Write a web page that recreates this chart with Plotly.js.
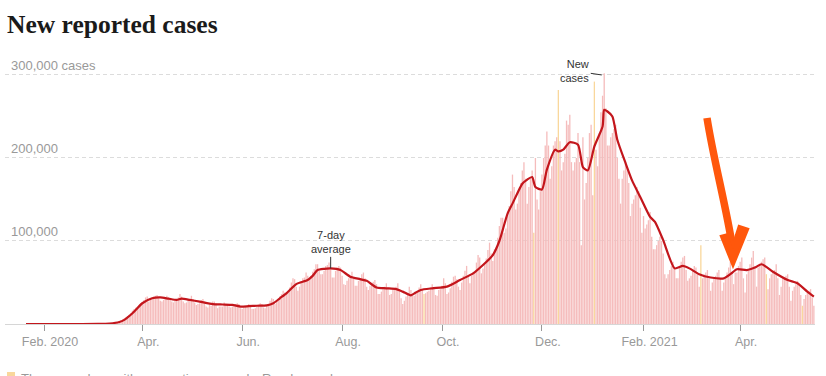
<!DOCTYPE html>
<html>
<head>
<meta charset="utf-8">
<script src="https://cdn.plot.ly/plotly-3.0.1.min.js"></script>
<style>
  html, body { margin: 0; padding: 0; background: #fff; }
  #chart { width: 826px; height: 376px; }
</style>
</head>
<body>
<div id="chart"></div>
<script>
// ---- Data (daily new cases, in thousands) ----
const startDate = '2020-01-21';
const jan2020 = [0,0,0,0,0,0,0,0,0,0,0];
const feb2020 = [0,0,0,0,0,0,0,0,0,0,0,0,0,0,0,0,0,0,0,0,0,0,0,0,0,0,0,0,0];
const mar2020 = [0.01,0.02,0.03,0.06,0.07,0.1,0.12, 0.15,0.2,0.3,0.4,0.5,0.7,0.8, 1.0,1.5,2.2,3.0,4.5,5.5,6.5, 8,9.5,11,13,16,18,19.5, 20,22,25];
const apr2020 = [26,29,32,33, 27,29,31,33,34,35,31, 28,27,29,30,34,32,30, 27,26,28,29,32,36,33, 27,25,26,29,30];
const may2020 = [34,30, 26,23,24,25,29,30,27, 21,20,23,22,27,27,25, 19,21,21,21,26,24,23, 21,20,21,22,24,25,24, 19];
const jun2020 = [18,20,21,22,24,23, 18,18,19,21,23,25,24, 20,19,22,24,28,31,30, 24,27,30,33,36,40,38, 36,38,44];
const jul2020 = [50,55,54,45, 40,45,50,55,56,62,58, 56,58,63,66,72,72,64, 60,60,64,70,71,74,66, 56,56,64,68,70,68];
const aug2020 = [58, 48,47,52,55,58,63,55, 46,46,52,54,60,62,55, 45,41,46,49,51,53,48, 36,36,39,43,45,49,44, 35,36];
const sep2020 = [42,41,45,49,42, 31,24,28,33,36,45,41, 34,34,38,39,44,48,42, 36,37,39,40,44,48,43, 35,34,41,42];
const oct2020 = [46,55,49, 36,38,43,51,57,58,54, 45,41,50,58,64,70,57, 49,58,62,62,74,83,80, 61,67,73,79,89,98,85];
const nov2020 = [76,90,92,104,118,128,128, 110,115,132,142,160,180,165, 138,145,160,170,185,195,175, 145,165,175,185,110,200,150, 138,160];
const dec2020 = [180,200,215,232,215, 175,190,215,220,225,282,220, 185,195,205,245,240,252,195, 185,195,200,230,195,95,225, 150,170,200,230,240];
const jan2021 = [155,292, 210,190,230,255,275,302,260, 215,215,225,230,235,240,200, 175,145,175,185,195,190,170, 130,145,150,155,165,160,140, 110];
const feb2021 = [130,115,120,125,135,105, 90,90,95,100,105,100,85, 60,55,60,65,70,75,68, 55,55,70,75,80,82,65, 52];
const mar2021 = [55,58,65,70,68,60, 45,95,55,60,62,65,55, 40,50,55,58,62,65,55, 40,50,55,62,68,75,62, 48,62,62,70];
const apr2021 = [75,80,55, 38,60,65,72,80,88,70, 45,68,72,75,78,80,60, 42,55,60,62,65,72,55, 35,45,55,55,58,60];
const may2021 = [45, 28,40,45,48,52,48,35, 22,30,35,38,40,42,32, 22];

// days with a reporting anomaly
const anomalyDates = ['2020-09-20','2020-11-26','2020-12-11','2021-01-02','2021-03-08','2021-04-17','2021-05-09'];

// 7-day average (thousands)
const avgDates = ['2020-01-21','2020-02-15','2020-03-05','2020-03-12','2020-03-18','2020-03-21','2020-03-26',
  '2020-04-01','2020-04-07','2020-04-12','2020-04-17','2020-04-22','2020-04-25','2020-04-30',
  '2020-05-06','2020-05-14','2020-05-20','2020-05-26','2020-05-31',
  '2020-06-05','2020-06-10','2020-06-16','2020-06-20','2020-06-24','2020-06-28',
  '2020-07-04','2020-07-11','2020-07-14','2020-07-17','2020-07-21','2020-07-25','2020-07-31',
  '2020-08-06','2020-08-12','2020-08-16','2020-08-22','2020-08-28',
  '2020-09-03','2020-09-07','2020-09-12','2020-09-15','2020-09-18','2020-09-25',
  '2020-10-04','2020-10-12','2020-10-20','2020-10-26',
  '2020-11-01','2020-11-05','2020-11-10','2020-11-13','2020-11-19','2020-11-22','2020-11-25','2020-11-27',
  '2020-12-01','2020-12-04','2020-12-09','2020-12-11','2020-12-14','2020-12-18','2020-12-23','2020-12-26','2020-12-29',
  '2021-01-02','2021-01-07','2021-01-08','2021-01-10','2021-01-13','2021-01-16','2021-01-21','2021-01-25','2021-01-30',
  '2021-02-05','2021-02-08','2021-02-13','2021-02-20','2021-02-25',
  '2021-03-01','2021-03-07','2021-03-14','2021-03-22','2021-03-26','2021-03-30',
  '2021-04-05','2021-04-10','2021-04-14','2021-04-21','2021-04-30',
  '2021-05-06','2021-05-12','2021-05-16'];
const avgValues = [0,0,0.1,0.6,2.4,5,13,
  25,31,32,30.5,29,30.5,29,
  27,24,23.5,23,21,
  21.5,22,22.5,25,31,37,
  48,53,58,65,66.5,67,65,
  57,54,52,44,43,
  42,39,34.5,38,41,43,
  45,53,61,71,
  83,100,133,145,169,174,177,165,
  162,186,210,208,210,219,216,189,185,
  214,238,258,256,250,222,194,173,153,
  129,123,101,67,70,
  67,60,56,55,60,66,
  65,68,72,63,53,
  49,39,33];

// axis ticks
const tickDates = ['2020-02-01','2020-04-01','2020-06-01','2020-08-01','2020-10-01','2020-12-01','2021-02-01','2021-04-01'];
const tickLabels = ['Feb. 2020','Apr.','Jun.','Aug.','Oct.','Dec.','Feb. 2021','Apr.'];
const yTickVals = [100000, 200000, 300000];
const yTickLabels = ['100,000', '200,000', '300,000 cases'];

// ---- Build ----
const daily = [].concat(jan2020, feb2020, mar2020, apr2020, may2020, jun2020, jul2020, aug2020,
  sep2020, oct2020, nov2020, dec2020, jan2021, feb2021, mar2021, apr2021, may2021);
const s = startDate.split('-').map(Number);
const dates = daily.map((_, i) => new Date(Date.UTC(s[0], s[1]-1, s[2]+i)).toISOString().slice(0,10));
const PINK = '#f5bcbc', YELLOW = '#f9d79c';
const barColors = dates.map(d => anomalyDates.includes(d) ? YELLOW : PINK);

const bars = {
  type: 'bar', x: dates, y: daily.map(v => v*1000),
  marker: { color: barColors, line: { width: 0 } },
  hoverinfo: 'skip'
};
const avgLine = {
  type: 'scatter', mode: 'lines', x: avgDates, y: avgValues.map(v => v*1000),
  line: { color: '#c3161c', width: 2.2, shape: 'spline', smoothing: 0.6 },
  hoverinfo: 'skip'
};

// pixel helpers for the hand-drawn arrow and footnote (plot area: x 5..815, y 65..324)
const PL = 5, PR = 815, PT = 65, PB = 324;
const X = x => (x - PL) / (PR - PL);
const Y = y => (PB - y) / (PB - PT);
function pathPx(cmds) {
  return cmds.map(c => typeof c === 'string' ? c : (X(c[0]).toFixed(5) + ',' + Y(c[1]).toFixed(5))).join(' ');
}
const ORANGE = '#ff570c';
const shaft = pathPx(['M', [707,118], 'C', [714,162], [726,205], [733,250]]);
const head = pathPx(['M', [721,236], 'L', [733,266], 'L', [748,229], 'L', [739,226], 'L', [733,245], 'L', [729,234], 'Z']);

const layout = {
  width: 826, height: 376,
  margin: { l: PL, r: 826 - PR, t: PT, b: 376 - PB },
  paper_bgcolor: '#fff', plot_bgcolor: '#fff',
  font: { family: 'Liberation Sans, Arial, sans-serif', color: '#999' },
  showlegend: false, bargap: 0.2, hovermode: false,
  title: {
    text: 'New reported cases',
    font: { family: 'Liberation Serif, Times New Roman, serif', size: 25.5, color: '#1a1a1a', weight: 'bold' },
    xref: 'container', yref: 'container', x: 7/826, xanchor: 'left', y: 1 - 24/376, yanchor: 'middle'
  },
  xaxis: {
    type: 'date', range: ['2020-01-08 04:30', '2021-05-16 16:30'],
    tickmode: 'array', tickvals: tickDates, ticktext: tickLabels,
    ticks: 'outside', ticklen: 6, tickcolor: '#999', tickwidth: 1,
    showgrid: false, zeroline: false, showline: true, linecolor: '#d6d6d6', linewidth: 1,
    tickfont: { size: 12.5, color: '#999' }, ticklabelshift: 6, ticklabeloverflow: 'allow', fixedrange: true
  },
  yaxis: {
    range: [0, 312000], tickmode: 'array', tickvals: yTickVals, ticktext: yTickLabels,
    showgrid: true, gridcolor: '#dcdcdc', griddash: '4px,3px', gridwidth: 1,
    zeroline: false, showline: false, ticks: '',
    ticklabelposition: 'inside top', ticklabeloverflow: 'allow', tickfont: { size: 13, color: '#999' },
    ticklabelstandoff: 3, fixedrange: true
  },
  annotations: [
    {
      x: '2020-07-25', y: 67000, xref: 'x', yref: 'y', text: '7-day<br>average',
      showarrow: true, arrowhead: 0, arrowwidth: 1, arrowcolor: '#333', ax: 0, ay: -26, standoff: 0,
      font: { size: 11, color: '#333' }, align: 'center'
    },
    {
      x: '2021-01-06 12:00', y: 300000, xref: 'x', yref: 'y', text: 'New<br>cases',
      showarrow: true, arrowhead: 0, arrowwidth: 1, arrowcolor: '#333', ax: -27, ay: -4, standoff: 0,
      font: { size: 11, color: '#333' }, align: 'right'
    },
    {
      x: X(19), y: Y(378), xref: 'paper', yref: 'paper', xanchor: 'left', yanchor: 'middle',
      text: 'These are days with a reporting anomaly. Read more here.', showarrow: false,
      font: { size: 13, color: '#999' }
    }
  ],
  shapes: [
    { type: 'rect', xref: 'paper', yref: 'paper', x0: X(7), x1: X(15), y0: Y(380), y1: Y(372),
      fillcolor: YELLOW, line: { width: 0 } },
    { type: 'path', xref: 'paper', yref: 'paper', path: shaft, line: { color: ORANGE, width: 7.5 } },
    { type: 'path', xref: 'paper', yref: 'paper', path: head, fillcolor: ORANGE, line: { color: ORANGE, width: 2.5 } }
  ]
};

Plotly.newPlot('chart', [bars, avgLine], layout, { displayModeBar: false, staticPlot: true });
</script>
</body>
</html>
